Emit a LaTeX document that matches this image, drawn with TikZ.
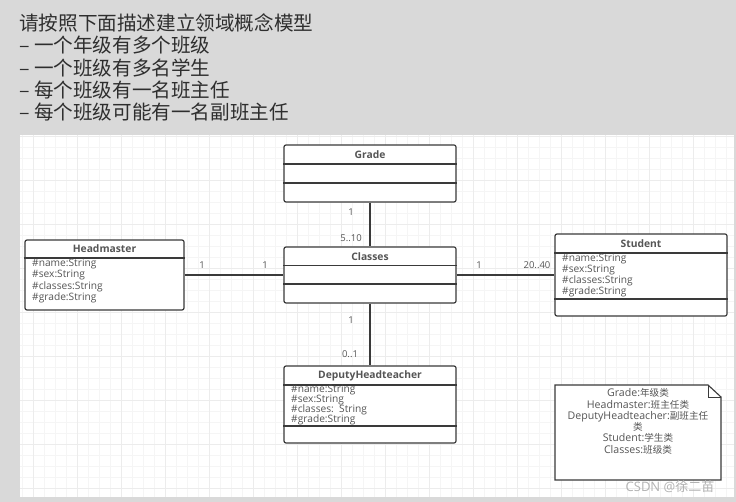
\documentclass[tikz,border=0pt]{standalone}
\usepackage{fontspec}
\setmainfont{Open Sans}
\newfontfamily\cjk{Noto Sans CJK SC}
\usetikzlibrary{positioning}

\definecolor{pagegray}{HTML}{D9D9D9}
\definecolor{gridminor}{HTML}{F5F5F5}
\definecolor{gridmajor}{HTML}{ECECEC}
\definecolor{boxline}{HTML}{3A3A3A}
\definecolor{umltext}{HTML}{555555}
\definecolor{headtext}{HTML}{2E2E2E}

\newcommand{\zh}[1]{{\cjk\fontsize{9.6}{11}\selectfont #1}}

\tikzset{
  umlbox/.style={draw=boxline, line width=1.2pt, rounded corners=2pt, fill=white,
    minimum width=172pt, inner sep=0pt},
  sepline/.style={draw=boxline, line width=1.1pt},
  umltitle/.style={font=\fontsize{10.3}{12}\selectfont\bfseries, text=umltext},
  attr/.style={font=\fontsize{10.2}{11}\selectfont, text=umltext, anchor=west, inner sep=0pt},
  mult/.style={font=\fontsize{9.5}{10}\selectfont, text=umltext},
  assoc/.style={draw=boxline, line width=1.4pt},
  headline/.style={font=\cjk\fontsize{19.6}{22}\selectfont, text=headtext, anchor=west, inner sep=0pt},
  notetext/.style={font=\fontsize{10.6}{11}\selectfont, text=umltext, inner sep=0pt,
    text height=7.5pt, text depth=2pt},
}

\begin{document}
\begin{tikzpicture}[x=1pt, y=-1pt]
\useasboundingbox (0,0) rectangle (736,502);
\fill[pagegray] (0,0) rectangle (736,502);

% canvas with grid
\fill[white] (20,135) rectangle (734,497);
\begin{scope}
\clip (20,135) rectangle (734,497);
\foreach \x in {22,33,...,734} \draw[gridminor, line width=0.8pt] (\x,135) -- (\x,497);
\foreach \y in {136,147,...,497} \draw[gridminor, line width=0.8pt] (20,\y) -- (734,\y);
\foreach \x in {33,77,...,734} \draw[gridmajor, line width=0.8pt] (\x,135) -- (\x,497);
\foreach \y in {136,180,...,497} \draw[gridmajor, line width=0.8pt] (20,\y) -- (734,\y);
\end{scope}

% task text
\node[headline] (h1) at (19,23) {请按照下面描述建立领域概念模型};
\node[headline] (h2) at (19,45.5) {– 一个年级有多个班级};
\node[headline] (h3) at (19,67.8) {– 一个班级有多名学生};
\node[headline] (h4) at (19,90) {– 每个班级有一名班主任};
\node[headline] (h5) at (19,112) {– 每个班级可能有一名副班主任};

% classes
\node[umlbox, minimum height=57pt] (grade) at (370,173.5) {};
\draw[sepline] (grade.west |- 0,164) -- (grade.east |- 0,164);
\draw[sepline] (grade.west |- 0,183) -- (grade.east |- 0,183);
\node[umltitle] (gradetitle) at (370,154.5) {Grade};

\node[umlbox, minimum height=56pt] (classes) at (370,275) {};
\draw[sepline] (classes.west |- 0,265.5) -- (classes.east |- 0,265.5);
\draw[sepline] (classes.west |- 0,284) -- (classes.east |- 0,284);
\node[umltitle] (classestitle) at (370,256.5) {Classes};

\node[umlbox, minimum width=159pt, minimum height=70pt] (headmaster) at (104.5,275) {};
\draw[sepline] (headmaster.west |- 0,258) -- (headmaster.east |- 0,258);
\node[umltitle] (headmastertitle) at (104.5,249) {Headmaster};
\node[attr] (hm1) at (32,264) {\#name:String};
\node[attr] (hm2) at (32,275) {\#sex:String};
\node[attr] (hm3) at (32,286.5) {\#classes:String};
\node[attr] (hm4) at (32,297.5) {\#grade:String};

\node[umlbox, minimum height=82pt] (student) at (641,275) {};
\draw[sepline] (student.west |- 0,253) -- (student.east |- 0,253);
\draw[sepline] (student.west |- 0,299) -- (student.east |- 0,299);
\node[umltitle] (studenttitle) at (641,243.5) {Student};
\node[attr] (st1) at (562,258.5) {\#name:String};
\node[attr] (st2) at (562,269.5) {\#sex:String};
\node[attr] (st3) at (562,281) {\#classes:String};
\node[attr] (st4) at (562,292) {\#grade:String};

\node[umlbox, minimum height=77pt] (deputy) at (370,404.5) {};
\draw[sepline] (deputy.west |- 0,385) -- (deputy.east |- 0,385);
\draw[sepline] (deputy.west |- 0,426) -- (deputy.east |- 0,426);
\node[umltitle] (deputytitle) at (370,375.5) {DeputyHeadteacher};
\node[attr] (dp1) at (291,390) {\#name:String};
\node[attr] (dp2) at (291,400) {\#sex:String};
\node[attr] (dp3) at (291,410) {\#classes:\ \ String};
\node[attr] (dp4) at (291,420) {\#grade:String};

% associations
\draw[assoc] (grade) -- (classes);
\draw[assoc] (headmaster) -- (classes);
\draw[assoc] (classes) -- (student);
\draw[assoc] (classes) -- (deputy);

\node[mult] (m1) at (351,212) {1};
\node[mult] (m2) at (351,238) {5..10};
\node[mult] (m3) at (202,265) {1};
\node[mult] (m4) at (265,265) {1};
\node[mult] (m5) at (479,265) {1};
\node[mult] (m6) at (537,265) {20..40};
\node[mult] (m7) at (351,320) {1};
\node[mult] (m8) at (350,354) {0..1};

% note
\draw[boxline, line width=1.1pt, fill=white] (555,385) -- (708,385) -- (721,397) -- (721,480) -- (555,480) -- cycle;
\draw[boxline, line width=0.8pt] (708,385) -- (708,397) -- (721,397);
\node[notetext] (n1) at (638,394) {Grade:\zh{年级类}};
\node[notetext] (n2) at (638,405.5) {Headmaster:\zh{班主任类}};
\node[notetext] (n3) at (638,416.8) {DeputyHeadteacher:\zh{副班主任}};
\node[notetext] (n4) at (638,428) {\zh{类}};
\node[notetext] (n5) at (638,439.2) {Student:\zh{学生类}};
\node[notetext] (n6) at (638,450.5) {Classes:\zh{班级类}};

% watermark
\node[font=\fontsize{13}{14}\selectfont, text=black!30, inner sep=0pt] (mark) at (670,487) {CSDN @{\cjk 徐二苗}};
\end{tikzpicture}
\end{document}
